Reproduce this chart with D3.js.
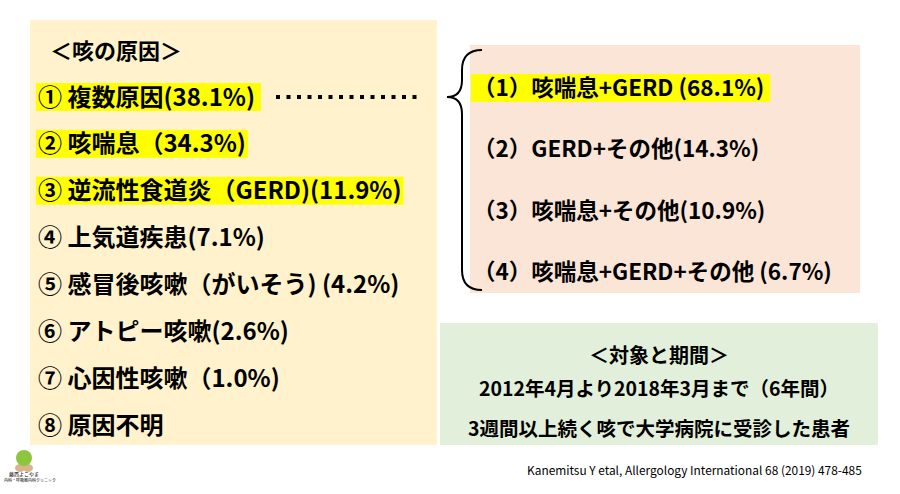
<!DOCTYPE html>
<html><head><meta charset="utf-8">
<script src="https://cdn.jsdelivr.net/npm/d3@7"></script>
<style>body{margin:0;background:#fff}text{font-family:"Noto Sans CJK JP",sans-serif;font-weight:700;fill:#000}</style>
</head><body><svg id="c" width="900" height="494"></svg>
<script>
const title = "＜咳の原因＞";
const causes = ["① 複数原因(38.1%)","② 咳喘息（34.3%)","③ 逆流性食道炎（GERD)(11.9%)","④ 上気道疾患(7.1%)","⑤ 感冒後咳嗽（がいそう) (4.2%)","⑥ アトピー咳嗽(2.6%)","⑦ 心因性咳嗽（1.0%)","⑧ 原因不明"];
const causeHighlight = [true,true,true,false,false,false,false,false];
const combos = ["（1）咳喘息+GERD (68.1%)","（2）GERD+その他(14.3%)","（3）咳喘息+その他(10.9%)","（4）咳喘息+GERD+その他 (6.7%)"];
const comboHighlight = [true,false,false,false];
const studyLines = ["＜対象と期間＞","2012年4月より2018年3月まで（6年間）","3週間以上続く咳で大学病院に受診した患者"];
const citation = "Kanemitsu Y etal, Allergology International 68 (2019) 478-485";

const svg = d3.select("#c");
svg.append("rect").attr("x",30).attr("y",20).attr("width",407).attr("height",425).attr("fill","#fff2cc");
svg.append("rect").attr("x",470).attr("y",45).attr("width",390).attr("height",248).attr("fill","#fbe5d6");
svg.append("rect").attr("x",440).attr("y",323).attr("width",438).attr("height",122).attr("fill","#e2efda");

svg.append("text").attr("x",50).attr("y",59).attr("font-size",22).text(title);

const yL = d3.scalePoint().domain(d3.range(causes.length)).range([97,425]);
function items(g, data, hl, x, y, fs){
  data.forEach((t,i)=>{
    const gg = g.append("g");
    const tx = gg.append("text").attr("x",x).attr("y",y(i)+fs*0.36).attr("font-size",fs).text(t);
    if(hl[i]){const b=tx.node().getBBox();
      gg.insert("rect","text").attr("x",b.x-2).attr("y",y(i)-14).attr("width",b.width+(i==0?8:4)).attr("height",28).attr("fill","#ffff00");}
  });
}
items(svg, causes, causeHighlight, 38, yL, 24);
const yR = d3.scalePoint().domain(d3.range(combos.length)).range([88,272]);
items(svg, combos, comboHighlight, 473, yR, 22.5);

svg.append("line").attr("x1",276).attr("x2",422).attr("y1",97).attr("y2",97)
  .attr("stroke","#000").attr("stroke-width",4).attr("stroke-dasharray","4,6.5");
svg.append("path").attr("d","M482,50 Q462,50 462,70 L462,80 Q462,97 447,97 Q462,97 462,114 L462,270 Q462,290 482,290")
  .attr("fill","none").attr("stroke","#000").attr("stroke-width",2);

const yG=[356,389,429];
studyLines.forEach((t,i)=>svg.append("text").attr("x",659).attr("y",yG[i]+7).attr("text-anchor","middle").attr("font-size",i==0?20:19.5).text(t));
svg.append("text").attr("x",527).attr("y",475).attr("font-size",11.9).style("font-weight",400).attr("font-family","Arial, Liberation Sans").text(citation);

// logo
const lg=svg.append("g").attr("transform","translate(24,458)");
lg.append("ellipse").attr("cx",-4).attr("cy",10).attr("rx",5).attr("ry",4).attr("fill","#d9b48f");
lg.append("ellipse").attr("cx",4).attr("cy",10).attr("rx",5).attr("ry",4).attr("fill","#d9b48f");
lg.append("circle").attr("cx",0).attr("cy",0).attr("r",8).attr("fill","#8cc63f");
svg.append("text").attr("x",24).attr("y",476).attr("text-anchor","middle").attr("font-size",5).style("font-weight",400).attr("fill","#555").text("藤西よこやま");
svg.append("text").attr("x",4).attr("y",482).attr("font-size",4).style("font-weight",400).attr("fill","#555").text("内科・呼吸器内科クリニック");
</script></body></html>
